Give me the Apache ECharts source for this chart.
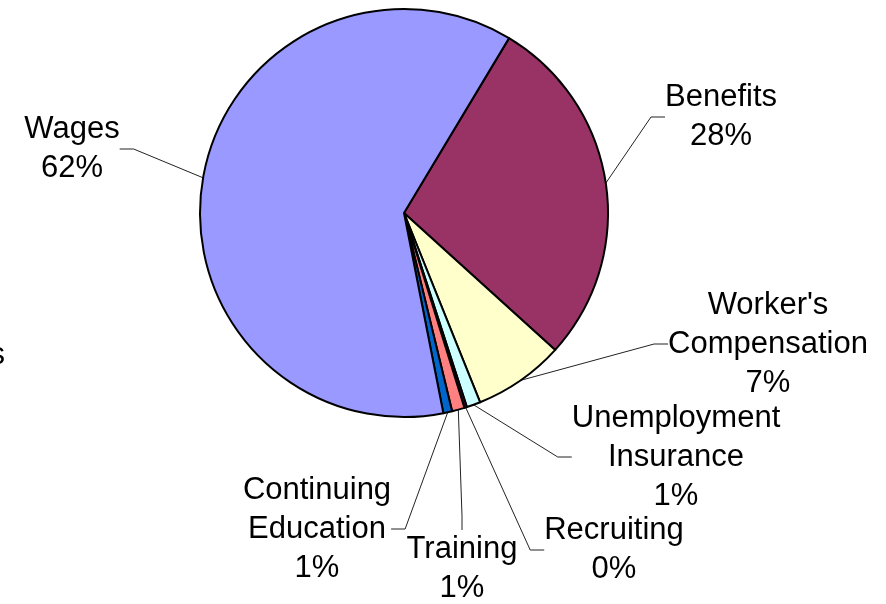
<!DOCTYPE html>
<html>
<head>
<meta charset="utf-8">
<script src="https://cdn.jsdelivr.net/npm/echarts@6/dist/echarts.min.js"></script>
<style>
  html, body { margin: 0; padding: 0; background: #fff; }
  #main { width: 886px; height: 604px; }
</style>
</head>
<body>
<div id="main"></div>
<script>
const categories = ['Benefits', "Worker's Compensation", 'Unemployment Insurance', 'Recruiting', 'Training', 'Continuing Education', 'Wages'];
const shares = [28.1, 7.2, 1.1, 0.2, 1.0, 0.7, 61.7];
const sliceColors = ['#993366', '#FFFFCC', '#CCFFFF', '#660066', '#FF8080', '#0066CC', '#9999FF'];

// where each label block sits (center of text)
const labelSpots = {
  'Benefits': [721, 117],
  "Worker's Compensation": [768, 344],
  'Unemployment Insurance': [676, 457],
  'Recruiting': [614, 550],
  'Training': [462, 569],
  'Continuing Education': [317, 529],
  'Wages': [72, 149]
};

let myChart = echarts.init(document.getElementById('main'));
let option = {
  animation: false,
  graphic: [
    {
      type: 'text',
      right: 881,
      top: 340,
      style: { text: 's', font: '31px "Liberation Sans", Arial, sans-serif', fill: '#000' }
    }
  ],
  series: [
    {
      type: 'pie',
      center: [404, 213],
      radius: 204,
      startAngle: 59,
      clockwise: true,
      avoidLabelOverlap: false,
      itemStyle: { borderColor: '#000', borderWidth: 2 },
      label: {
        show: true,
        position: 'outside',
        color: '#000',
        fontFamily: '"Liberation Sans", Arial, sans-serif',
        fontSize: 31,
        lineHeight: 39,
        align: 'center',
        formatter: function (p) {
          return p.name.replace(' ', '\n') + '\n' + Math.round(p.percent) + '%';
        }
      },
      labelLine: {
        show: true,
        length: 20,
        length2: 14,
        lineStyle: { color: '#222', width: 1 }
      },
      labelLayout: function (params) {
        const spot = labelSpots[categories[params.dataIndex]];
        return { x: spot[0], y: spot[1], align: 'center', verticalAlign: 'middle' };
      },
      emphasis: { disabled: true },
      data: categories.map(function (name, i) {
        return { name: name, value: shares[i], itemStyle: { color: sliceColors[i] } };
      })
    }
  ]
};
myChart.setOption(option);
</script>
</body>
</html>
